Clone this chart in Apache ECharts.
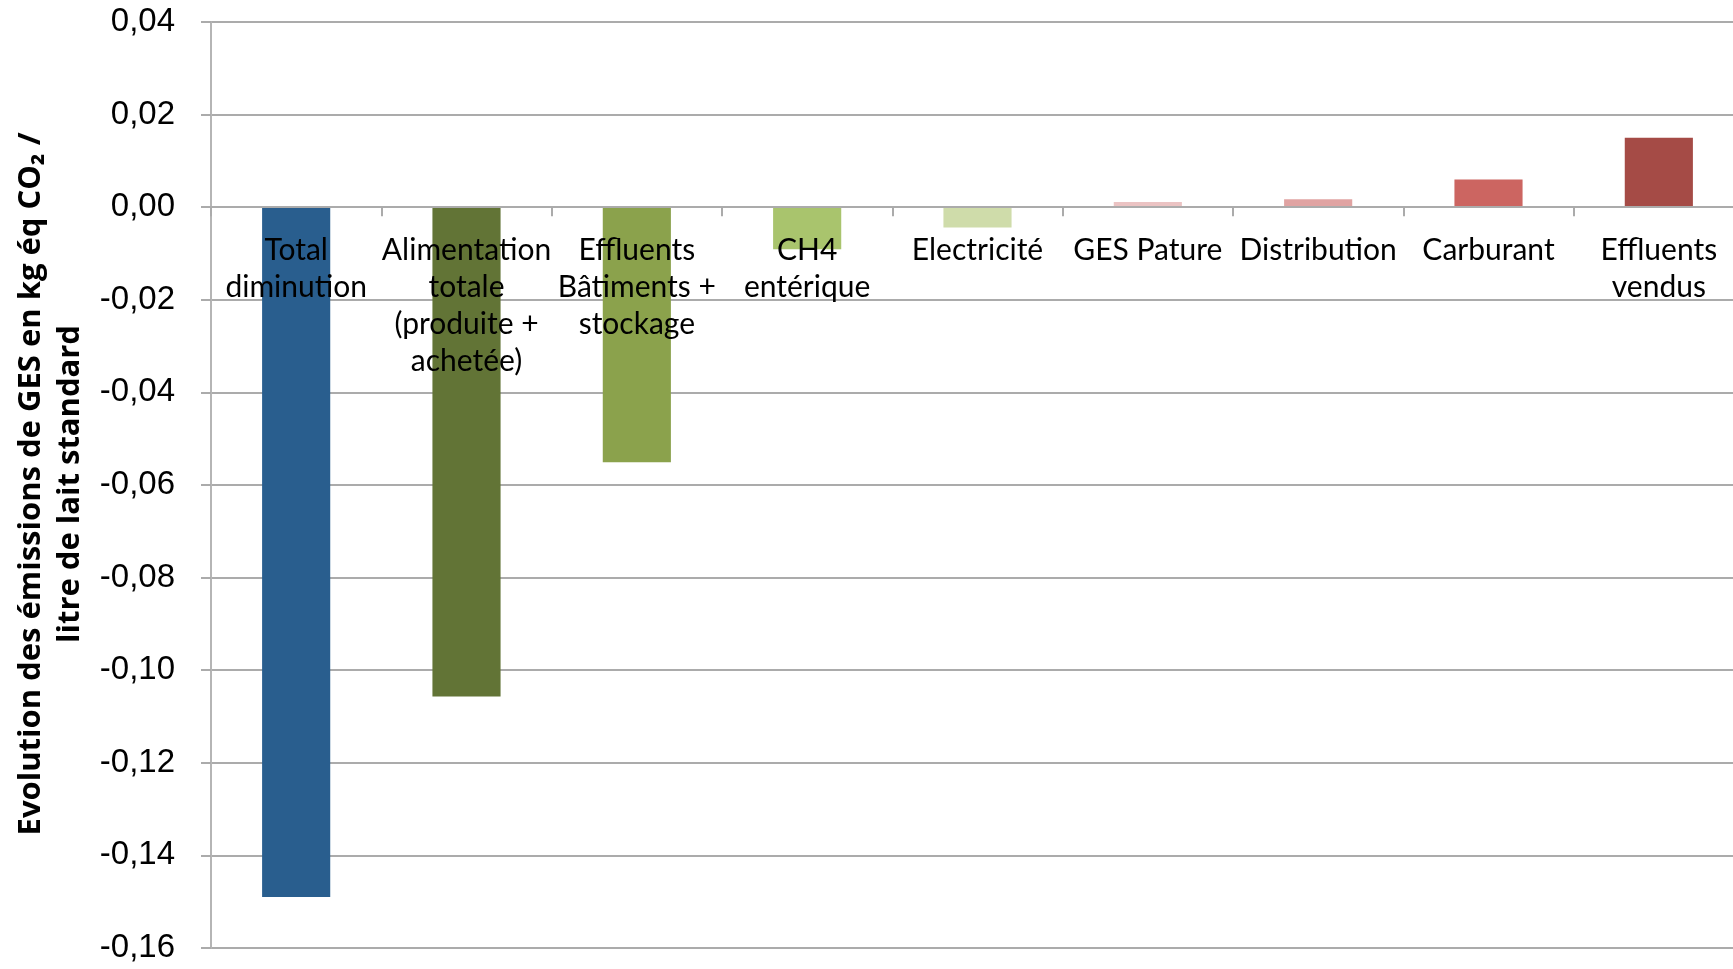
<!DOCTYPE html>
<html>
<head>
<meta charset="utf-8">
<script src="https://cdn.jsdelivr.net/npm/echarts@6/dist/echarts.min.js"></script>
<style>
html,body{margin:0;padding:0;background:#fff;}
#c{width:1733px;height:969px;}
</style>
</head>
<body>
<div id="c"></div>
<script>
const categories = [
  'Total\ndiminution',
  'Alimentation\ntotale\n(produite +\nachetée)',
  'Effluents\nBâtiments +\nstockage',
  'CH4\nentérique',
  'Electricité',
  'GES Pature',
  'Distribution',
  'Carburant',
  'Effluents\nvendus'
];
const values = [-0.149, -0.1057, -0.0551, -0.0091, -0.0044, 0.0011, 0.0017, 0.006, 0.015];
const barColors = ['#295E8E', '#627436', '#8BA24C', '#A9C46D', '#CFDCAA', '#EBC3C3', '#E0A3A2', '#CC6561', '#A54B46'];
const yMin = -0.16, yMax = 0.04, yStep = 0.02;
const yTitle = 'Evolution des émissions de GES en kg éq CO₂ /\nlitre de lait standard';

const W = 1733, H = 969;
const gridTop = 22, gridBottom = 21;
const plotH = H - gridTop - gridBottom;
const zeroOffset = -plotH * (0 - yMin) / (yMax - yMin);

const chart = echarts.init(document.getElementById('c'), null, {renderer: 'canvas'});
chart.setOption({
  animation: false,
  backgroundColor: '#fff',
  grid: {left: 211, right: -11, top: gridTop, bottom: gridBottom, containLabel: false, outerBoundsMode: 'none'},
  xAxis: {
    type: 'category',
    data: categories,
    position: 'bottom',
    offset: zeroOffset,
    z: 10,
    axisLine: {onZero: false, lineStyle: {color: '#ABABAB', width: 2}},
    axisTick: {show: true, length: 9, lineStyle: {color: '#ABABAB', width: 2}},
    axisLabel: {
      interval: 0, margin: 25, color: '#000',
      fontFamily: 'Lato', fontSize: 30, lineHeight: 37
    },
    splitLine: {show: false}
  },
  yAxis: {
    type: 'value',
    min: yMin, max: yMax, interval: yStep,
    axisLine: {show: true, lineStyle: {color: '#B5B5B5', width: 2}},
    axisTick: {show: true, length: 10, lineStyle: {color: '#ABABAB', width: 2}},
    axisLabel: {
      margin: 36, color: '#000', fontFamily: 'Liberation Sans', fontSize: 33,
      formatter: v => v.toFixed(2).replace('.', ',')
    },
    splitLine: {show: true, lineStyle: {color: '#ABABAB', width: 2}}
  },
  graphic: [{
    type: 'text',
    x: 51, y: 484,
    rotation: Math.PI / 2,
    style: {
      text: yTitle,
      fontFamily: 'Open Sans', fontWeight: 'bold', fontSize: 31, lineHeight: 39,
      fill: '#000', align: 'center', verticalAlign: 'middle'
    }
  }],
  series: [{
    type: 'bar',
    barWidth: '40%',
    data: values.map((v, i) => ({value: v, itemStyle: {color: barColors[i]}}))
  }]
});
</script>
</body>
</html>
